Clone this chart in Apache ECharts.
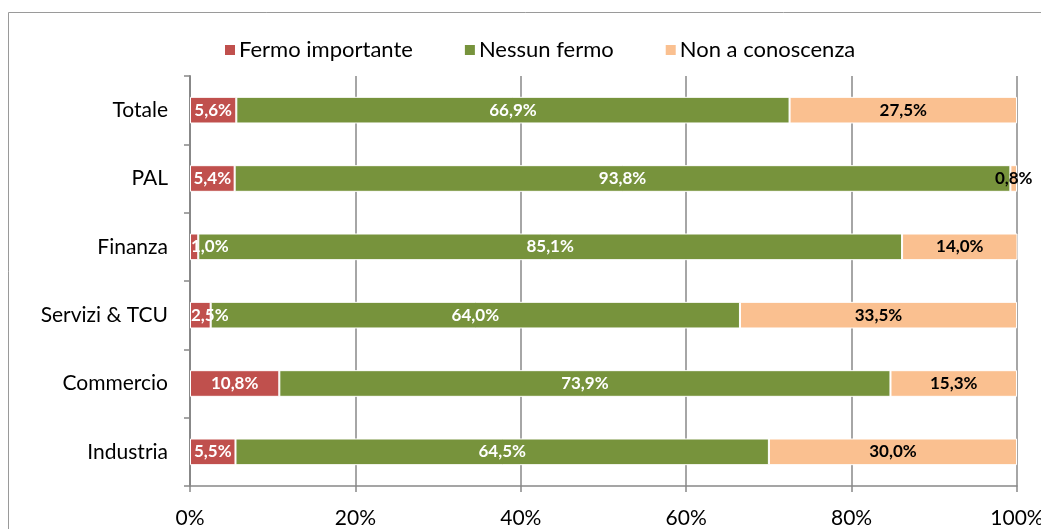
<!DOCTYPE html>
<html>
<head>
<meta charset="utf-8">
<script src="https://cdn.jsdelivr.net/npm/echarts@6/dist/echarts.min.js"></script>
<style>
html,body{margin:0;padding:0;background:#fff;}
#main{width:1041px;height:529px;}
</style>
</head>
<body>
<div id="main"></div>
<script>
var categorie = ['Industria', 'Commercio', 'Servizi & TCU', 'Finanza', 'PAL', 'Totale'];   //dal basso verso l'alto
var serieNomi = ['Fermo importante', 'Nessun fermo', 'Non a conoscenza'];
var fermoImportante = [5.5, 10.8, 2.5, 1.0, 5.4, 5.6];
var nessunFermo = [64.5, 73.9, 64.0, 85.1, 93.8, 66.9];
var nonConoscenza = [30.0, 15.3, 33.5, 14.0, 0.8, 27.5];
var tickValori = [0, 20, 40, 60, 80, 100];

var font = 'Lato, "Open Sans", sans-serif';

function formatta(p){
    return p.value.toFixed(1).replace('.', ',') + '%';
}

// le etichette troppo strette sul bordo sinistro vengono spostate dentro l'area
function voci(dati, primo){
    return dati.map(function(v){
        if (primo && v < 4) {
            return { value: v, label: { position: 'insideLeft', distance: 1 } };
        }
        return v;
    });
}

function serie(nome, dati, colore, coloreTesto, primo){
    return {
        name: nome,
        type: 'bar',
        stack: 'tot',
        barWidth: '39%',
        data: voci(dati, primo),
        itemStyle: {
            color: colore,
            borderColor: '#fff',
            borderWidth: 1
        },
        label: {
            show: true,
            position: 'inside',
            color: coloreTesto,
            fontFamily: font,
            fontWeight: 'bold',
            fontSize: 17,
            formatter: formatta
        },
        animation: false
    };
}

var myChart = echarts.init(document.getElementById('main'));
var option = {
    graphic: [{
        type: 'rect',
        shape: { x: 8.5, y: 12.5, width: 1200, height: 700 },
        style: { fill: 'none', stroke: '#9a9a9a', lineWidth: 1 },
        silent: true
    }],
    grid: {
        left: 190,
        right: 24,
        top: 76,
        bottom: 43,
        containLabel: false,
        outerBoundsMode: 'none'
    },
    legend: {
        data: serieNomi,
        top: 34,
        left: 218,
        itemWidth: 12,
        itemHeight: 12,
        itemGap: 50,
        icon: 'rect',
        textStyle: {
            fontFamily: font,
            fontSize: 22,
            color: '#000',
            padding: [0, 0, 0, -2]
        }
    },
    xAxis: {
        type: 'value',
        min: 0,
        max: 100,
        interval: 20,
        axisLine: { show: true, lineStyle: { color: '#888', width: 1.5 } },
        axisTick: { show: true, length: 6, lineStyle: { color: '#888', width: 1.5 } },
        axisLabel: {
            color: '#000',
            fontFamily: font,
            fontSize: 21,
            margin: 22,
            formatter: function(v){ return tickValori.indexOf(v) >= 0 ? v + '%' : ''; }
        },
        splitLine: { show: true, lineStyle: { color: '#888', width: 1.5 } }
    },
    yAxis: {
        type: 'category',
        data: categorie,
        axisLine: { show: true, lineStyle: { color: '#888', width: 2 } },
        axisTick: { show: true, length: 6, lineStyle: { color: '#888', width: 1.5 } },
        axisLabel: {
            color: '#000',
            fontFamily: font,
            fontSize: 21,
            margin: 22
        }
    },
    series: [
        serie(serieNomi[0], fermoImportante, '#C0504D', '#fff', true),
        serie(serieNomi[1], nessunFermo, '#77933C', '#fff', false),
        serie(serieNomi[2], nonConoscenza, '#FAC090', '#000', false)
    ]
};
myChart.setOption(option);
</script>
</body>
</html>
